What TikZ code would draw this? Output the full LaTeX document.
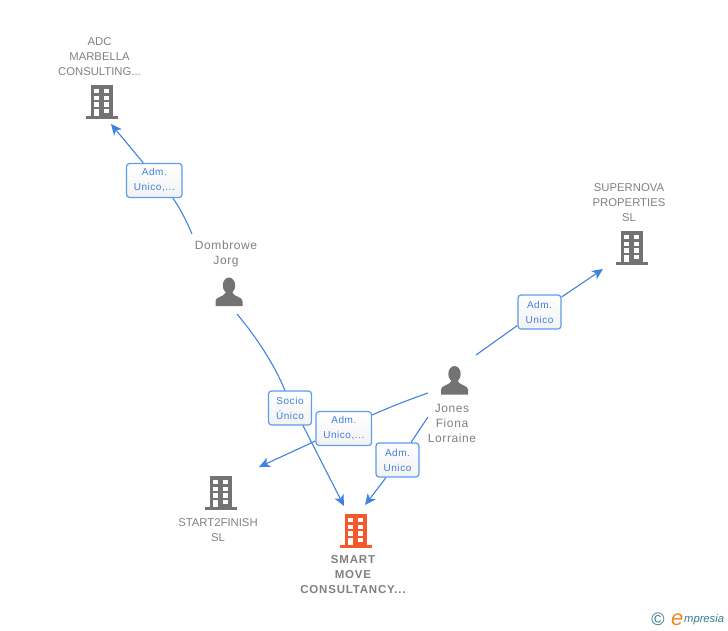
\documentclass[tikz,border=0pt]{standalone}
\usepackage{fontspec}
\setmainfont{Liberation Sans}
\usetikzlibrary{arrows.meta}
\definecolor{txtgray}{HTML}{808080}
\definecolor{icongray}{HTML}{737373}
\definecolor{linkblue}{HTML}{3F82E0}
\definecolor{boxblue}{HTML}{5C9CEC}
\definecolor{labelblue}{HTML}{3D7FDC}
\definecolor{orangeicon}{HTML}{F4592B}
\definecolor{logoteal}{HTML}{2F7A8C}
\definecolor{logoorange}{HTML}{F08A1D}
\tikzset{
  x=1pt,y=-1pt,
  entity/.style={text=txtgray,align=center,inner sep=0pt,font=\fontsize{11.3}{15}\selectfont},
  personname/.style={entity,font=\fontsize{12}{15}\selectfont\addfontfeature{LetterSpace=5}},
  mainname/.style={entity,font=\fontsize{11.5}{15}\selectfont\bfseries\addfontfeature{LetterSpace=7}},
  rolebox/.style={draw=boxblue,line width=1.2pt,rounded corners=3pt,top color=white,bottom color=white!95!black,
    text=labelblue,align=center,inner sep=0pt,font=\fontsize{10}{15}\selectfont\addfontfeature{LetterSpace=5.5},
    execute at begin node={\rule{0pt}{10.5pt}}},
  link/.style={draw=linkblue,line width=1.1pt},
  arrowlink/.style={link,-{Stealth[length=11pt,width=10pt,inset=3pt]}},
  pics/building/.style={code={
    \fill[#1] (-11,-17) rectangle (11,15);
    \fill[#1] (-16,14) rectangle (16,16.5);
    \foreach \yy in {-13,-6.3,0.3}{
      \fill[white] (-7.4,\yy) rectangle (-2.4,\yy+4.4);
      \fill[white] (2.3,\yy) rectangle (7.3,\yy+4.4);
    }
    \fill[white] (-7.4,6.7) rectangle (-2.4,14.2);
    \fill[white] (2.3,6.7) rectangle (7.3,11);
  }},
  pics/person/.style={code={
    \fill[icongray] (0,-6.5) ellipse (6.2 and 8);
    \fill[icongray] (-13.5,14) -- (-13.5,9) .. controls (-13.5,5) and (-6,5) .. (-3.5,1) -- (-3.5,-2) -- (3.5,-2) -- (3.5,1)
      .. controls (6,5) and (13.5,5) .. (13.5,9) -- (13.5,14) -- cycle;
  }}
}
\begin{document}
\begin{tikzpicture}
\useasboundingbox (0,0) rectangle (728,630);
% icons
\path (101.7,102) pic {building=icongray};
\path (631.7,248) pic {building=icongray};
\path (220.7,493) pic {building=icongray};
\path (355.7,531) pic {building=orangeicon};
\path (229,292) pic {person};
\path (454.5,380.5) pic {person};
% names
\node[entity] (adc) at (99.5,56.5) {ADC\\MARBELLA\\CONSULTING...};
\node[entity] (supernova) at (629,202.5) {SUPERNOVA\\PROPERTIES\\SL};
\node[personname] (dombrowe) at (226,254) {Dombrowe\\Jorg};
\node[personname] (jones) at (452,423) {Jones\\Fiona\\Lorraine};
\node[entity] (start) at (218,530.5) {START2FINISH\\SL};
\node[mainname] (smart) at (353,575) {SMART\\MOVE\\CONSULTANCY...};
% role boxes
\node[rolebox,minimum width=55.5pt,minimum height=34pt] (r1) at (154.3,180.5) {Adm.\\Unico,...};
\node[rolebox,minimum width=43pt,minimum height=34pt] (r2) at (290,408) {Socio\\Único};
\node[rolebox,minimum width=55.5pt,minimum height=34pt] (r3) at (343.8,428.5) {Adm.\\Unico,...};
\node[rolebox,minimum width=43pt,minimum height=34pt] (r4) at (397.5,460) {Adm.\\Unico};
\node[rolebox,minimum width=43pt,minimum height=34pt] (r5) at (539.5,312) {Adm.\\Unico};
% connector ends
\coordinate (adcIn) at (111,124);
\coordinate (domOutA) at (192,234);
\coordinate (domOutB) at (237,314);
\coordinate (smartInA) at (344,506);
\coordinate (smartInB) at (365,505);
\coordinate (startIn) at (259,467);
\coordinate (jonesOutA) at (428,393);
\coordinate (jonesOutB) at (428,417);
\coordinate (jonesOutC) at (476,355);
\coordinate (superIn) at (603,269);
% connectors
\draw[link] (domOutA) .. controls (186,220) and (180,208) .. ([xshift=18.5pt]r1.south);
\draw[arrowlink] ([xshift=-11pt]r1.north) -- (adcIn);
\draw[link] (domOutB) .. controls (257,338) and (274,364) .. ([xshift=-5pt]r2.north);
\draw[arrowlink] ([xshift=13pt]r2.south) -- (smartInA);
\draw[link] (jonesOutA) .. controls (408,400) and (390,407) .. ([yshift=13.5pt]r3.east);
\draw[arrowlink] ([yshift=-12.5pt]r3.west) -- (startIn);
\draw[link] (jonesOutB) -- ([xshift=13.5pt]r4.north);
\draw[arrowlink] ([xshift=-11.5pt]r4.south) -- (smartInB);
\draw[link] (jonesOutC) -- ([yshift=-13.5pt]r5.west);
\draw[arrowlink] ([yshift=15pt]r5.east) -- (superIn);
% logo
\node[inner sep=0pt,text=logoteal,font=\fontsize{18}{18}\selectfont] (copyr) at (658,619) {©};
\node[anchor=base west,inner sep=0pt,font=\itshape\fontsize{22}{22}\selectfont,text=logoorange] (logoe) at (671,625) {e};
\node[anchor=base west,inner sep=0pt,font=\itshape\fontsize{11.2}{12}\selectfont,text=logoteal] (logot) at (684,622.5) {mpresia};
\end{tikzpicture}
\end{document}
